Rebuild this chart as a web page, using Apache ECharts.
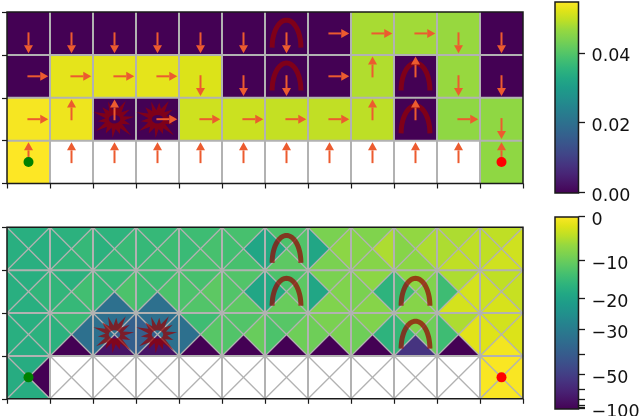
<!DOCTYPE html>
<html>
<head>
<meta charset="utf-8">
<style>html,body{margin:0;padding:0;background:#fff}#c{width:640px;height:416px}</style>
<script src="https://cdn.jsdelivr.net/npm/echarts@6/dist/echarts.min.js"></script>
</head>
<body>
<div id="c"></div>
<script>
// ---- data (rows listed from top to bottom) ----
const policyRows = ["DDDDDDDRRRDD", "RRRRDDDRUUDD", "RUURRRRRUURD", "UUUUUUUUUUUU"];
const stateRow3 = [0, 0, 0, 0, 0, 0, 0, 0, 0.048, 0.0475, 0.0468, 0];
const stateRow2 = [0, 0.0527, 0.0527, 0.0527, 0.0519, 0, 0, 0, 0.0486, 0, 0.0468, 0];
const stateRow1 = [0.0543, 0.0535, 0, 0, 0.0508, 0.0505, 0.05, 0.0497, 0.0494, 0, 0.0461, 0.0461];
const stateRow0 = [0.0549, null, null, null, null, null, null, null, null, null, null, 0.0461];
// action values per cell: [N, E, S, W]
const qRow3 = [[-17,-17,-17,-17],[-16.5,-15,-15.5,-17],[-16,-14.5,-15,-16.5],[-15,-14,-14,-15],[-14,-13,-13,-14.5],[-13,-19,-13,-13.5],[-12.5,-12,-11,-18],[-8.5,-7,-8.5,-19],[-8,-5,-7.5,-7.5],[-6.5,-5,-7,-7.5],[-5,-4,-4,-5],[-4,-3,-3,-4]];
const qRow2 = [[-17,-15.5,-17,-17],[-16.5,-13.5,-15,-15.5],[-15,-12.5,-33,-15],[-14,-12.5,-33,-14],[-13,-11,-12,-12.5],[-12,-19,-11,-12],[-12.5,-11,-10,-18],[-8.5,-8,-8,-19],[-7,-16,-7.5,-8.5],[-7,-8,-7.5,-14],[-5,-2.7,-2.7,-14],[-4,-3.5,-2.5,-3.2]];
const qRow1 = [[-17,-16.5,-17.5,-17],[-14.5,-33,-100,-16.5],[-33,-38,-70,-33],[-33,-33,-70,-38],[-14,-11.5,-100,-33],[-12,-10,-100,-12],[-11.5,-9.5,-100,-12.5],[-8.5,-8.5,-100,-9.5],[-8,-16,-100,-9.5],[-8,-9.5,-53,-15],[-5,-1.8,-100,-14],[-2.8,-2.2,-0.7,-2]];
const qRow0 = [[-17.5,-100,-17.5,-17.5],null,null,null,null,null,null,null,null,null,null,[-0.3,-0.3,-0.3,-0.3]];
const archCells = [[6, 3], [6, 2], [9, 2], [9, 1]];
const starCells = [[2, 1], [3, 1]];
const startCell = [0, 0];
const goalCell = [11, 0];
const topBarTicks = [0, 0.02, 0.04];
const topBarLabels = ['0.00', '0.02', '0.04'];
const bottomBarTicks = [0, -10, -20, -30, -40, -50, -60, -70, -80, -90, -100];
const bottomBarLabelValues = [0, -10, -20, -30, -50, -100];
const bottomBarLabels = ['0', '\u221210', '\u221220', '\u221230', '\u221250', '\u2212100'];
const topMax = 0.0549;
const gammaBottom = 2.5;
const viridisStops = ['#440154','#471365','#482475','#463480','#414487','#3b528b','#355f8d','#2f6c8e','#2a788e','#25848e','#21918c','#1e9c89','#22a884','#2fb47c','#44bf70','#5ec962','#7ad151','#95d840','#bddf26','#dfe318','#fde725'];
const COLS = 12, ROWS = 4;
const stateRows = [stateRow3, stateRow2, stateRow1, stateRow0];
const qRows = [qRow3, qRow2, qRow1, qRow0];
const starRadii = [.46,.42,.50,.39,.44,.40,.52,.39,.51,.39,.44,.37,.54,.39];

// ---- helpers ----
function hexRgb(h){return [1,3,5].map(i=>parseInt(h.substr(i,2),16));}
const stopRgb = viridisStops.map(hexRgb);
function viridis(t){
  t = Math.max(0, Math.min(1, t));
  const p = t * (stopRgb.length - 1), i = Math.min(Math.floor(p), stopRgb.length - 2), f = p - i;
  const c = stopRgb[i].map((v, k) => Math.round(v + (stopRgb[i + 1][k] - v) * f));
  return 'rgb(' + c.join(',') + ')';
}
const normBottom = v => Math.pow((v + 100) / 100, gammaBottom);
const GREY = '#b2b2b2', DARK = '#1a1a1a', ARROW = '#ec5b2f', HAZARD = 'rgba(152,0,0,0.7)';
const FONT = 'DejaVu Sans';

const stateCells = [], qCells = [], policyCells = [];
for (let i = 0; i < ROWS; i++) for (let c = 0; c < COLS; c++) {
  const y = ROWS - 1 - i;
  if (stateRows[i][c] !== null) stateCells.push([c, y, stateRows[i][c]]);
  if (qRows[i][c]) qCells.push({c: c, y: y, q: qRows[i][c]});
  policyCells.push({c: c, y: y, d: policyRows[i][c]});
}

// one custom series bound to a panel
function layer(panel, z, items, draw) {
  return {
    type: 'custom', coordinateSystem: 'cartesian2d', xAxisIndex: panel, yAxisIndex: panel,
    z: z, clip: false, silent: true, animation: false,
    data: items.map((_, i) => [i, i]), encode: {x: 0, y: 1},
    renderItem: (params, api) => draw(items[params.dataIndex], api)
  };
}
function gridLines(item, api) {
  const ch = [];
  for (let c = 1; c < COLS; c++) {
    const a = api.coord([c, 0]), b = api.coord([c, ROWS]);
    ch.push({type: 'line', shape: {x1: a[0], y1: a[1], x2: b[0], y2: b[1]}, style: {stroke: GREY, lineWidth: 2, fill: null}});
  }
  for (let r = 1; r < ROWS; r++) {
    const a = api.coord([0, r]), b = api.coord([COLS, r]);
    ch.push({type: 'line', shape: {x1: a[0], y1: a[1], x2: b[0], y2: b[1]}, style: {stroke: GREY, lineWidth: 2, fill: null}});
  }
  return {type: 'group', children: ch};
}
function frame(item, api) {
  const a = api.coord([0, ROWS]), b = api.coord([COLS, 0]);
  return {type: 'rect', shape: {x: a[0], y: a[1], width: b[0] - a[0], height: b[1] - a[1]}, style: {fill: null, stroke: DARK, lineWidth: 1.5}};
}
function stateRect(it, api) {
  const a = api.coord([it[0], it[1] + 1]), b = api.coord([it[0] + 1, it[1]]);
  return {type: 'rect', shape: {x: a[0], y: a[1], width: b[0] - a[0], height: b[1] - a[1]}, style: {fill: viridis(it[2] / topMax)}};
}
function qTriangles(it, api) {
  const x = it.c, y = it.y, m = [x + .5, y + .5];
  const sides = [[[x, y + 1], [x + 1, y + 1]], [[x + 1, y + 1], [x + 1, y]], [[x + 1, y], [x, y]], [[x, y], [x, y + 1]]];
  return {type: 'group', children: sides.map((s, k) => ({
    type: 'polygon',
    shape: {points: [api.coord(s[0]), api.coord(s[1]), api.coord(m)]},
    style: {fill: viridis(normBottom(it.q[k])), stroke: viridis(normBottom(it.q[k])), lineWidth: .3}
  }))};
}
function diagonals(item, api) {
  const ch = [];
  for (let c = 0; c < COLS; c++) for (let r = 0; r < ROWS; r++) {
    [[[c, r], [c + 1, r + 1]], [[c, r + 1], [c + 1, r]]].forEach(d => {
      const a = api.coord(d[0]), b = api.coord(d[1]);
      ch.push({type: 'line', shape: {x1: a[0], y1: a[1], x2: b[0], y2: b[1]}, style: {stroke: GREY, lineWidth: 1.3, fill: null}});
    });
  }
  return {type: 'group', children: ch};
}
function arch(it, api) {
  const pts = [];
  for (let k = 0; k <= 40; k++) {
    const th = Math.PI * k / 40;
    pts.push(api.coord([it[0] + .5 + .335 * Math.cos(th), it[1] + .17 + .64 * Math.sin(th)]));
  }
  return {type: 'polyline', shape: {points: pts}, style: {fill: null, stroke: HAZARD, lineWidth: 5}};
}
function star(it, api) {
  const cx = it[0] + .5, cy = it[1] + .5, n = starRadii.length, pts = [];
  const at = (r, th, sx) => api.coord([cx + r * (sx || 1) * Math.cos(th), cy + r * Math.sin(th)]);
  for (let k = 0; k < n; k++) {
    const th = 2 * Math.PI * k / n + .12;
    pts.push(at(starRadii[k], th));
    pts.push(at(.21 + .02 * (k % 3), th + Math.PI / n));
  }
  pts.push(pts[0]);
  const holeStart = pts[0];
  for (let k = 0; k <= 12; k++) pts.push(at(.10, .12 - 2 * Math.PI * k / 12, 1.35));
  pts.push(holeStart);
  return {type: 'polygon', shape: {points: pts}, style: {fill: HAZARD}};
}
const DIRS = {U: [0, 1], D: [0, -1], L: [-1, 0], R: [1, 0]};
function arrow(it, api) {
  const d = DIRS[it.d], o = [it.c + .5, it.y + .5];
  const tail = api.coord([o[0] - .025 * d[0], o[1] - .025 * d[1]]);
  const tip = api.coord([o[0] + .46 * d[0], o[1] + .46 * d[1]]);
  const ux = d[0], uy = -d[1], hl = 8, hw = 4.5;
  const base = [tip[0] - ux * hl, tip[1] - uy * hl];
  return {type: 'group', children: [
    {type: 'line', shape: {x1: tail[0], y1: tail[1], x2: base[0], y2: base[1]}, style: {stroke: ARROW, lineWidth: 2, fill: null}},
    {type: 'polygon', shape: {points: [tip, [base[0] - uy * hw, base[1] + ux * hw], [base[0] + uy * hw, base[1] - ux * hw]]}, style: {fill: ARROW}}
  ]};
}
function dot(colour) {
  return (it, api) => {
    const p = api.coord([it[0] + .5, it[1] + .5]);
    return {type: 'circle', shape: {cx: p[0], cy: p[1], r: 5}, style: {fill: colour}};
  };
}
function colourBar(panel, lo, hi, tickValues, labelValues, labels) {
  return layer(panel, 3, [0], (it, api) => {
    const a = api.coord([0, hi]), b = api.coord([1, lo]);
    const stops = viridisStops.map((c, i) => ({offset: 1 - i / (viridisStops.length - 1), color: c}));
    const ticks = tickValues.map(v => {
      const p = api.coord([1, v]);
      return {type: 'line', shape: {x1: p[0], y1: Math.round(p[1]) - .5, x2: p[0] + 6.5, y2: Math.round(p[1]) - .5}, style: {stroke: DARK, lineWidth: 1.3, fill: null}};
    });
    const texts = labelValues.map((v, i) => {
      const p = api.coord([1, v]);
      return {type: 'text', x: p[0] + 13, y: p[1] + 3, style: {text: labels[i], fill: '#111', font: '17.5px "' + FONT + '"', align: 'left', verticalAlign: 'middle'}};
    });
    return {type: 'group', children: [
      {type: 'rect', shape: {x: a[0], y: a[1], width: b[0] - a[0], height: b[1] - a[1]},
       style: {fill: new echarts.graphic.LinearGradient(0, 0, 0, 1, stops), stroke: DARK, lineWidth: 1.5}}
    ].concat(ticks, texts)};
  });
}
function panelX(i) {
  return {gridIndex: i, type: 'value', min: 0, max: COLS, interval: 1, axisLine: {show: false},
    axisTick: {show: true, length: 5, lineStyle: {color: DARK, width: 1.2}}, axisLabel: {show: false}, splitLine: {show: false}};
}
function panelY(i) {
  return {gridIndex: i, type: 'value', min: 0, max: ROWS, interval: 1, axisLine: {show: false},
    axisTick: {show: true, length: 5, lineStyle: {color: DARK, width: 1.2}}, axisLabel: {show: false}, splitLine: {show: false}};
}
function barX(i) {
  return {gridIndex: i, type: 'value', min: 0, max: 1, show: false};
}
function barY(i, max) {
  return {gridIndex: i, type: 'value', position: 'right', min: 0, max: max, show: false};
}

const chart = echarts.init(document.getElementById('c'), null, {renderer: 'canvas'});
chart.setOption({
  animation: false,
  backgroundColor: '#fff',
  grid: [
    {left: 7, top: 12, width: 516, height: 171.5},
    {left: 7, top: 227.3, width: 516, height: 171.5},
    {left: 555, top: 2, width: 23.5, height: 191},
    {left: 555, top: 217, width: 23.5, height: 192}
  ],
  xAxis: [panelX(0), panelX(1), barX(2), barX(3)],
  yAxis: [panelY(0), panelY(1), barY(2, topMax), barY(3, 1)],
  series: [
    layer(0, 2, stateCells, stateRect),
    layer(0, 3, [0], gridLines),
    layer(0, 4, starCells, star),
    layer(0, 4, archCells, arch),
    layer(0, 5, policyCells, arrow),
    layer(0, 6, [startCell], dot('#008000')),
    layer(0, 6, [goalCell], dot('#ff0000')),
    layer(0, 7, [0], frame),
    layer(1, 2, qCells, qTriangles),
    layer(1, 3, [0], diagonals),
    layer(1, 3, [0], gridLines),
    layer(1, 4, starCells, star),
    layer(1, 4, archCells, arch),
    layer(1, 6, [startCell], dot('#008000')),
    layer(1, 6, [goalCell], dot('#ff0000')),
    layer(1, 7, [0], frame),
    colourBar(2, 0, topMax, topBarTicks, topBarTicks, topBarLabels),
    colourBar(3, 0, 1, bottomBarTicks.map(normBottom), bottomBarLabelValues.map(normBottom), bottomBarLabels)
  ]
});
</script>
</body>
</html>
